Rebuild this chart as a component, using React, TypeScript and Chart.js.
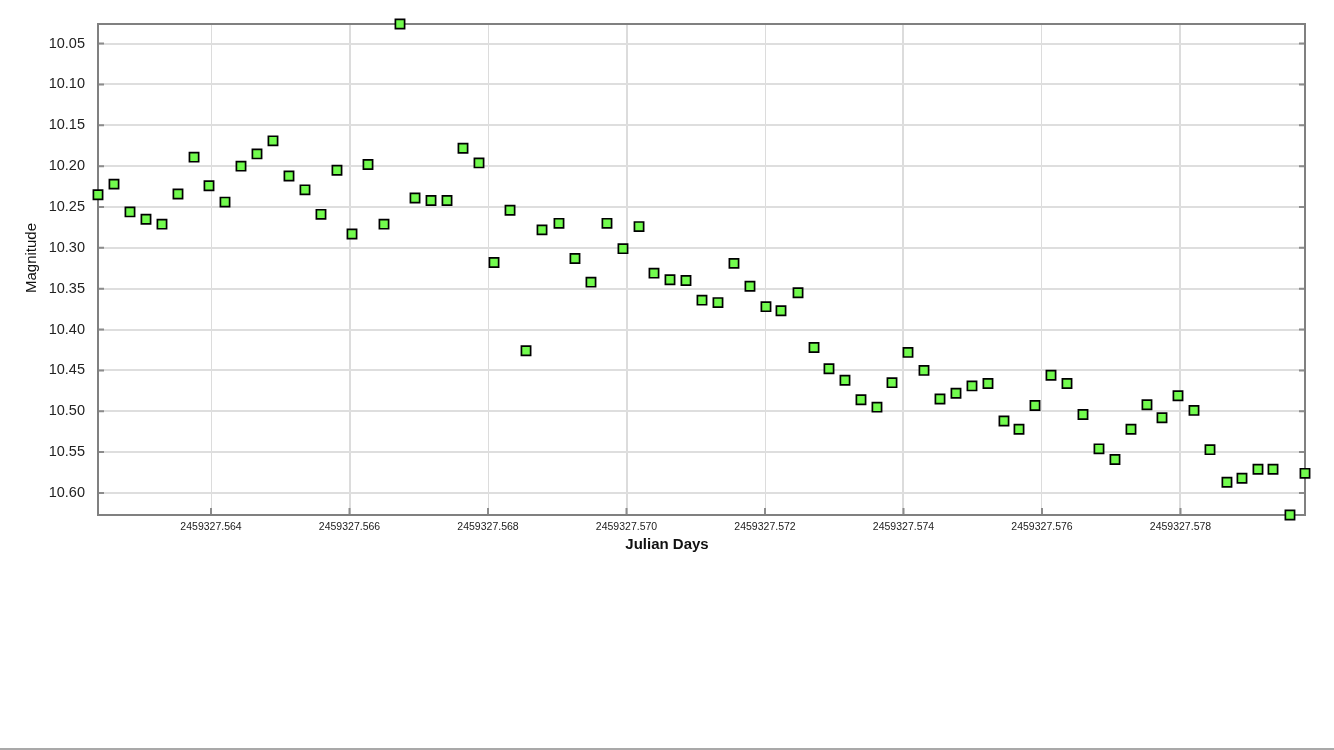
import React, { useEffect, useRef } from 'react';
import { Chart, registerables } from 'chart.js';

Chart.register(...registerables);

const julianDays = [
  2459327.562368, 2459327.562599, 2459327.56283, 2459327.563061, 2459327.563292,
  2459327.563523, 2459327.563755, 2459327.563971, 2459327.564202, 2459327.564433,
  2459327.564664, 2459327.564895, 2459327.565126, 2459327.565357, 2459327.565588,
  2459327.565819, 2459327.566036, 2459327.566267, 2459327.566498, 2459327.566729,
  2459327.566946, 2459327.567177, 2459327.567408, 2459327.567639, 2459327.56787,
  2459327.568087, 2459327.568318, 2459327.568549, 2459327.56878, 2459327.569025,
  2459327.569256, 2459327.569487, 2459327.569718, 2459327.569949, 2459327.570181,
  2459327.570397, 2459327.570628, 2459327.570859, 2459327.57109, 2459327.571321,
  2459327.571552, 2459327.571783, 2459327.572014, 2459327.572231, 2459327.572477,
  2459327.572708, 2459327.572924, 2459327.573155, 2459327.573386, 2459327.573617,
  2459327.573834, 2459327.574065, 2459327.574296, 2459327.574527, 2459327.574758,
  2459327.574989, 2459327.57522, 2459327.575451, 2459327.575668, 2459327.575899,
  2459327.57613, 2459327.576361, 2459327.576592, 2459327.576823, 2459327.577054,
  2459327.577285, 2459327.577516, 2459327.577733, 2459327.577964, 2459327.578195,
  2459327.578426, 2459327.578671, 2459327.578888, 2459327.579119, 2459327.579336,
  2459327.579581, 2459327.579798,
];

const magnitudes = [
  10.235, 10.222, 10.256, 10.265, 10.271, 10.234, 10.189, 10.224, 10.244, 10.2,
  10.185, 10.169, 10.212, 10.229, 10.259, 10.205, 10.283, 10.198, 10.271, 10.026,
  10.239, 10.242, 10.242, 10.178, 10.196, 10.318, 10.254, 10.426, 10.278, 10.27,
  10.313, 10.342, 10.27, 10.301, 10.274, 10.331, 10.339, 10.34, 10.364, 10.367,
  10.319, 10.347, 10.372, 10.377, 10.355, 10.422, 10.448, 10.462, 10.486, 10.495,
  10.465, 10.428, 10.45, 10.485, 10.478, 10.469, 10.466, 10.512, 10.522, 10.493,
  10.456, 10.466, 10.504, 10.546, 10.559, 10.522, 10.492, 10.508, 10.481, 10.499,
  10.547, 10.587, 10.582, 10.571, 10.571, 10.627, 10.576,
];

const xTickValues = [
  2459327.564, 2459327.566, 2459327.568, 2459327.57,
  2459327.572, 2459327.574, 2459327.576, 2459327.578,
];

const yTickValues = [
  10.05, 10.1, 10.15, 10.2, 10.25, 10.3, 10.35, 10.4, 10.45, 10.5, 10.55, 10.6,
];

const xAxisTitle = 'Julian Days';
const yAxisTitle = 'Magnitude';

const FONT = '"Liberation Sans", Arial, Helvetica, sans-serif';

export default function App() {
  const canvasRef = useRef<HTMLCanvasElement | null>(null);

  useEffect(() => {
    const canvas = canvasRef.current;
    if (!canvas) return;

    const framePlugin = {
      id: 'frame',
      beforeDatasetsDraw(chart: any) {
        const { ctx, chartArea: a, scales } = chart;
        ctx.save();
        // inward tick marks
        ctx.strokeStyle = '#8c8c8c';
        ctx.lineWidth = 2;
        ctx.beginPath();
        for (const v of yTickValues) {
          const py = scales.y.getPixelForValue(v);
          ctx.moveTo(a.left, py);
          ctx.lineTo(a.left + 6, py);
          ctx.moveTo(a.right - 6, py);
          ctx.lineTo(a.right, py);
        }
        for (const v of xTickValues) {
          const px = scales.x.getPixelForValue(v);
          ctx.moveTo(px, a.bottom);
          ctx.lineTo(px, a.bottom - 7);
        }
        ctx.stroke();
        // frame
        ctx.strokeStyle = '#808080';
        ctx.lineWidth = 2;
        ctx.strokeRect(a.left, a.top, a.right - a.left, a.bottom - a.top);
        // axis titles
        ctx.fillStyle = '#111';
        ctx.textAlign = 'center';
        ctx.textBaseline = 'middle';
        ctx.font = `bold 15px ${FONT}`;
        ctx.fillText(xAxisTitle, chart.width / 2, 545);
        ctx.font = `15px ${FONT}`;
        ctx.translate(32, 258);
        ctx.rotate(-Math.PI / 2);
        ctx.fillText(yAxisTitle, 0, 0);
        ctx.restore();
      },
    };

    const chart = new Chart(canvas, {
      type: 'scatter',
      data: {
        datasets: [
          {
            data: julianDays.map((x, i) => ({ x, y: magnitudes[i] })),
            pointStyle: 'rect',
            pointRadius: 6.5,
            pointHoverRadius: 6.5,
            backgroundColor: '#72fb4e',
            borderColor: '#000000',
            borderWidth: 1.7,
            clip: false as any,
          },
        ],
      },
      options: {
        animation: false,
        responsive: false,
        events: [],
        layout: { padding: { top: 24, left: 0, right: 29, bottom: 45 } },
        plugins: {
          legend: { display: false },
          tooltip: { enabled: false },
          title: { display: false },
        },
        scales: {
          x: {
            type: 'linear',
            min: julianDays[0],
            max: julianDays[julianDays.length - 1],
            border: { display: false },
            grid: {
              color: '#dcdcdc',
              lineWidth: (ctx: any) => (ctx.index % 2 === 1 ? 2 : 1),
              drawTicks: false,
            },
            afterBuildTicks: (axis: any) => {
              axis.ticks = xTickValues.map((value) => ({ value }));
            },
            afterFit: (axis: any) => {
              axis.height = 40;
            },
            ticks: {
              padding: 6,
              maxRotation: 0,
              autoSkip: false,
              color: '#222',
              font: { family: FONT, size: 10.5 },
              callback: (v: any) => Number(v).toFixed(3),
            },
          },
          y: {
            type: 'linear',
            reverse: true,
            min: Math.min(...magnitudes),
            max: Math.max(...magnitudes),
            border: { display: false },
            grid: {
              color: '#dedede',
              lineWidth: 2,
              drawTicks: false,
            },
            afterBuildTicks: (axis: any) => {
              axis.ticks = yTickValues.map((value) => ({ value }));
            },
            afterFit: (axis: any) => {
              axis.width = 98;
            },
            ticks: {
              padding: 13,
              autoSkip: false,
              color: '#222',
              font: { family: FONT, size: 14.5 },
              callback: (v: any) => Number(v).toFixed(2),
            },
          },
        },
      },
      plugins: [framePlugin],
    });

    return () => chart.destroy();
  }, []);

  return (
    <div style={{ position: 'absolute', left: 0, top: 0, width: 1334, height: 750, background: '#fff' }}>
      <canvas ref={canvasRef} width={1334} height={600} style={{ display: 'block' }} />
      <div style={{ position: 'absolute', left: 0, top: 748, width: 1334, height: 2, background: '#a9a9a9' }} />
    </div>
  );
}
